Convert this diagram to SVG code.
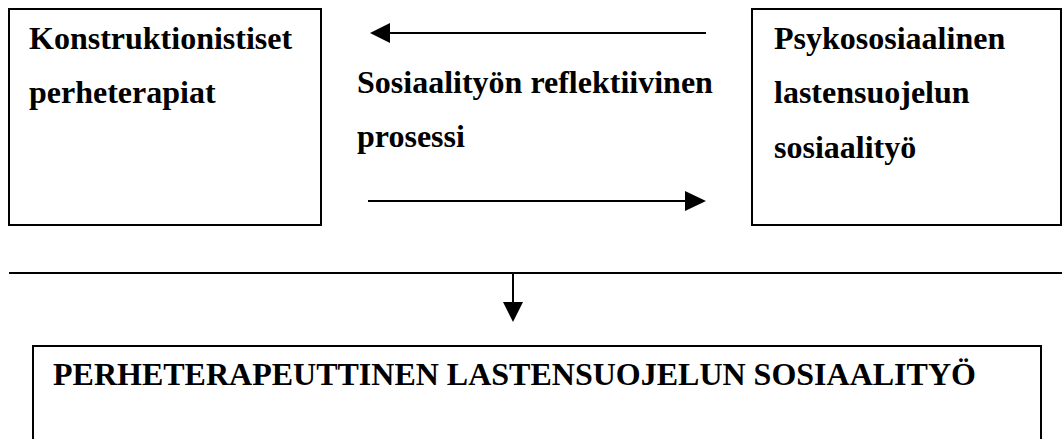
<svg xmlns="http://www.w3.org/2000/svg" width="1062" height="439" viewBox="0 0 1062 439">
<style>
.box{fill:#fff;stroke:#000;stroke-width:2}
.t{font-family:"Liberation Serif","Times New Roman",serif;font-weight:bold;font-size:32px;fill:#000}
.ln{stroke:#000;stroke-width:2;fill:none}
.ah{fill:#000}
</style>
<rect width="1062" height="439" fill="#fff"/>
<g id="node-left">
<rect class="box" x="9" y="9" width="312" height="216"/>
<text class="t" x="29" y="49">Konstruktionistiset</text>
<text class="t" x="29" y="103">perheterapiat</text>
</g>
<g id="node-right">
<rect class="box" x="752" y="9" width="309" height="216"/>
<text class="t" x="774" y="49">Psykososiaalinen</text>
<text class="t" x="774" y="103">lastensuojelun</text>
<text class="t" x="774" y="158">sosiaalityö</text>
</g>
<g id="node-middle-label">
<text class="t" x="357" y="93">Sosiaalityön reflektiivinen</text>
<text class="t" x="357" y="147">prosessi</text>
</g>
<g id="node-bottom">
<rect class="box" x="33" y="346" width="1008" height="110"/>
<text class="t" x="53" y="385">PERHETERAPEUTTINEN LASTENSUOJELUN SOSIAALITYÖ</text>
</g>
<g id="connectors">
<line class="ln" x1="706" y1="33" x2="388" y2="33"/>
<polygon class="ah" points="370,33 390,23 390,43"/>
<line class="ln" x1="368" y1="201" x2="688" y2="201"/>
<polygon class="ah" points="706,201 685,191 685,211"/>
<line class="ln" x1="9" y1="273" x2="1062" y2="273"/>
<line class="ln" x1="513" y1="273" x2="513" y2="304"/>
<polygon class="ah" points="513,322 503,302 523,302"/>
</g>
</svg>
